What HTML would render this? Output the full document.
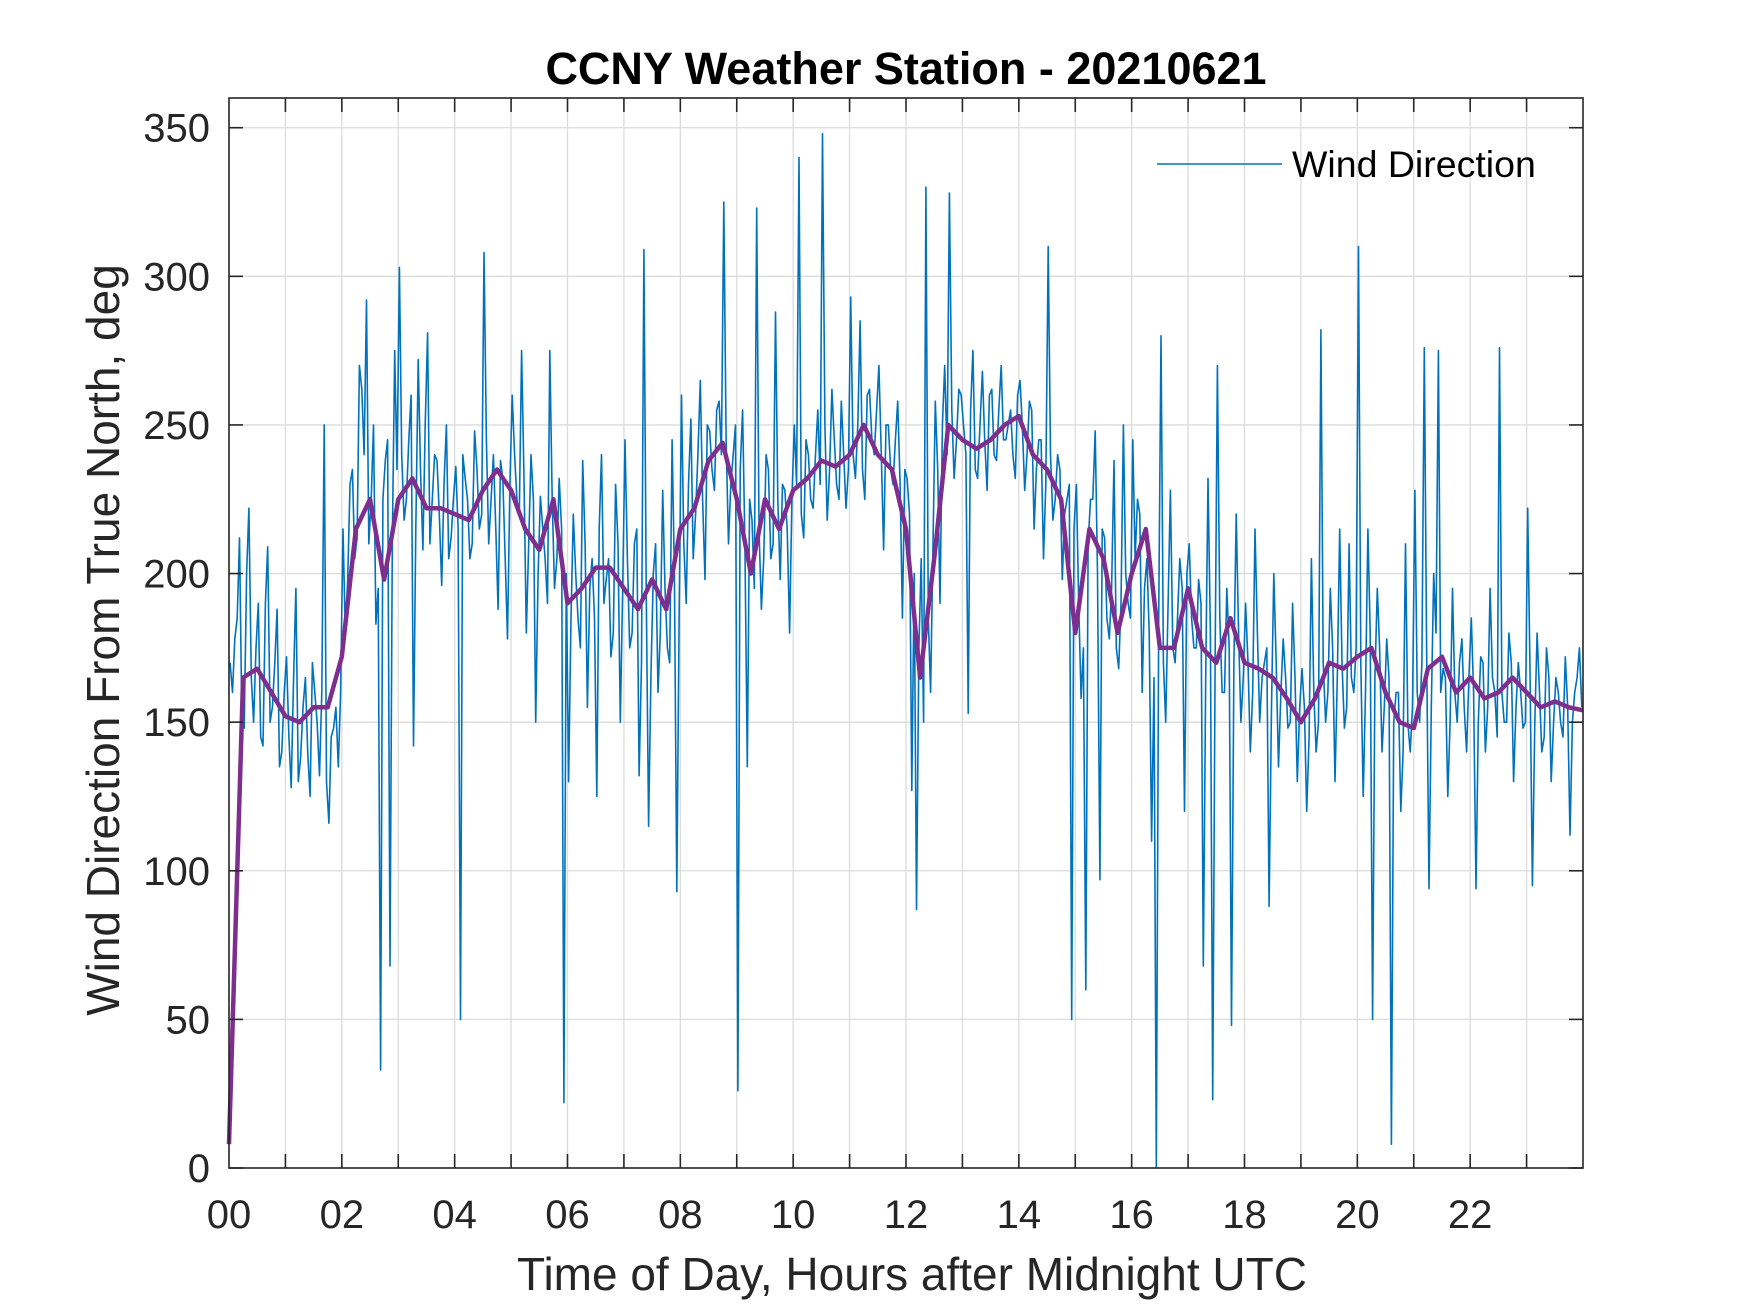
<!DOCTYPE html>
<html><head><meta charset="utf-8">
<style>
html,body{margin:0;padding:0;background:#fff;}
svg{display:block;font-family:"Liberation Sans",Arial,sans-serif;}
</style></head>
<body>
<svg id="chart" width="1750" height="1313" viewBox="0 0 1750 1313" xmlns="http://www.w3.org/2000/svg">
<rect x="0" y="0" width="1750" height="1313" fill="#fff"/>
<text x="906" y="84" font-size="45" font-weight="bold" text-anchor="middle" fill="#000">CCNY Weather Station - 20210621</text>
<text x="912" y="1290" font-size="46" text-anchor="middle" fill="#262626">Time of Day, Hours after Midnight UTC</text>
<text transform="translate(119,640) rotate(-90)" font-size="46" text-anchor="middle" fill="#262626">Wind Direction From True North, deg</text>
<g id="grid"></g>
<g id="series"></g>
<g id="axes"></g>
<g>
<line x1="1157" y1="164" x2="1282" y2="164" stroke="#0072BD" stroke-width="1.6"/>
<text x="1292" y="177" font-size="37.5" fill="#000">Wind Direction</text>
</g>
</svg>
<script>
// data
const hourTicks = [0,2,4,6,8,10,12,14,16,18,20,22];
const hourTickLabels = ["00","02","04","06","08","10","12","14","16","18","20","22"];
const yTicks = [0,50,100,150,200,250,300,350];
const windDir = [
170,178,212,148,222,150,190,142,209,155,188,140,
172,128,195,138,165,125,160,132,250,116,148,135,
215,198,235,212,262,292,225,183,33,238,68,275,
303,218,245,142,272,208,281,225,238,196,250,212,
236,50,232,205,248,215,308,210,240,188,232,178,
260,225,275,180,240,150,226,205,275,195,232,22,
130,220,185,238,155,205,125,240,198,172,230,150,
245,175,210,132,309,115,200,160,228,175,245,93,
260,190,252,220,265,198,248,228,258,325,210,240,
26,255,135,218,323,188,240,205,288,198,228,180,
250,340,212,240,222,255,348,218,262,230,258,222,
293,232,285,225,262,240,270,208,250,230,258,185,
232,127,87,205,330,160,258,190,270,328,232,262,
250,153,275,232,268,228,262,238,270,245,255,232,
265,228,258,215,245,205,310,218,240,198,225,50,
230,158,60,225,248,97,212,178,238,168,250,190,
245,225,160,205,110,0,280,150,228,170,205,120,
210,175,198,68,232,23,270,160,195,48,220,150,
190,140,215,150,170,88,200,135,178,148,190,130,
168,120,205,140,282,150,195,130,215,148,210,160,
310,125,215,50,195,140,178,8,160,120,210,140,
228,150,276,94,200,275,168,125,195,150,178,140,
185,94,172,140,195,160,276,150,180,130,170,148,
222,95,180,140,175,130,165,150,172,112,160,175
];
const windDirB = [
160,185,150,200,165,175,145,190,150,170,135,160,
145,165,130,155,140,170,150,160,130,145,155,160,
180,230,205,270,240,210,250,195,225,245,210,235,
240,225,260,215,235,250,210,240,220,230,205,225,
215,240,225,210,235,220,245,225,215,238,205,230,
240,220,232,210,225,200,215,190,225,205,215,200,
185,200,175,210,195,185,215,190,205,180,210,195,
205,180,215,170,195,165,210,180,195,170,200,185,
210,230,205,240,225,250,235,255,240,245,230,250,
235,210,225,195,215,205,235,210,225,230,215,225,
230,220,245,225,240,230,250,235,245,225,240,235,
240,250,235,260,245,255,240,250,235,245,230,235,
220,200,175,150,185,210,235,250,240,255,245,260,
240,255,235,250,245,260,240,255,245,250,240,260,
250,240,255,235,245,230,240,225,235,220,230,215,
190,175,210,225,200,215,185,195,175,190,200,185,
205,220,195,180,165,185,170,190,175,185,195,200,
185,175,190,165,180,170,185,160,175,170,180,165,
170,160,180,165,175,155,170,160,165,150,165,155,
155,145,160,150,170,160,175,165,170,155,165,175,
170,160,180,165,175,155,165,150,160,140,150,155,
160,170,175,155,180,160,165,150,160,170,155,165,
160,150,170,155,165,145,160,150,170,155,160,150,
165,150,160,145,165,150,160,145,155,150,165,155
];
const windStep = 1/12;
const smoothDir = [8,165,168,160,152,150,155,155,172,215,225,198,225,232,222,222,220,218,228,235,228,215,208,225,190,195,202,202,195,188,198,188,215,222,238,244,225,200,225,215,228,232,238,236,240,250,240,235,215,165,205,250,245,242,245,250,253,240,235,225,180,215,205,180,200,215,175,175,195,175,170,185,170,168,165,158,150,158,170,168,172,175,160,150,148,168,172,160,165,158,160,165,160,155,157,155,154];
const smoothStep = 0.25;

const L=229, R=1583, T=98, B=1168, XMAX=24, YMAX=360;
const X = h => L + (h/XMAX)*(R-L);
const Y = v => B - (v/YMAX)*(B-T);
const NS="http://www.w3.org/2000/svg";
function mk(tag, attrs){const e=document.createElementNS(NS,tag);for(const k in attrs)e.setAttribute(k,attrs[k]);return e;}
const grid=document.getElementById('grid'), series=document.getElementById('series'), axes=document.getElementById('axes');

for(let h=0;h<=23;h++){
  const g=mk('line',{x1:X(h),x2:X(h),y1:T,y2:B,stroke:'#dcdcdc','stroke-width':1.3});
  
  
  grid.appendChild(g);
}
yTicks.forEach(v=>{
  const g=mk('line',{x1:L,x2:R,y1:Y(v),y2:Y(v),stroke:'#dcdcdc','stroke-width':1.3});
  
  
  grid.appendChild(g);
});

let d='';
windDir.forEach((v,i)=>{
  const t=i*windStep+0.02;
  d+=(i?'L':'M')+X(t).toFixed(1)+','+Y(v).toFixed(1);
  const t2=Math.min(t+windStep/2,23.98);
  d+='L'+X(t2).toFixed(1)+','+Y(windDirB[i]).toFixed(1);
});
const p1=mk('path',{d:d,fill:'none',stroke:'#0072BD','stroke-width':1.6,'stroke-linejoin':'round'});


series.appendChild(p1);

let d2='';
smoothDir.forEach((v,i)=>{d2+=(i?'L':'M')+X(Math.min(i*smoothStep,24)).toFixed(1)+','+Y(v).toFixed(1);});
const p2=mk('path',{d:d2,fill:'none',stroke:'#7E2F8E','stroke-width':4.5,'stroke-linejoin':'round'});


series.appendChild(p2);

const box=mk('rect',{x:L,y:T,width:R-L,height:B-T,fill:'none',stroke:'#262626','stroke-width':1.6});


axes.appendChild(box);

for(let h=1;h<=23;h++){
  const t1=mk('line',{x1:X(h),x2:X(h),y1:B,y2:B-14,stroke:'#262626','stroke-width':1.6});
  
  
  axes.appendChild(t1);
  const t2=mk('line',{x1:X(h),x2:X(h),y1:T,y2:T+14,stroke:'#262626','stroke-width':1.6});
  
  
  axes.appendChild(t2);
}
hourTicks.forEach((h,i)=>{
  const t=mk('text',{x:X(h),y:1228,'font-size':40,'text-anchor':'middle',fill:'#262626'});
  t.textContent=hourTickLabels[i];
  
  
  axes.appendChild(t);
});
yTicks.forEach(v=>{
  const a=mk('line',{x1:L,x2:L+14,y1:Y(v),y2:Y(v),stroke:'#262626','stroke-width':1.6});
  
  
  axes.appendChild(a);
  const b=mk('line',{x1:R,x2:R-14,y1:Y(v),y2:Y(v),stroke:'#262626','stroke-width':1.6});
  
  
  axes.appendChild(b);
  const t=mk('text',{x:210,y:Y(v)+14,'font-size':40,'text-anchor':'end',fill:'#262626'});
  t.textContent=String(v);
  
  
  axes.appendChild(t);
});
</script>
</body></html>
